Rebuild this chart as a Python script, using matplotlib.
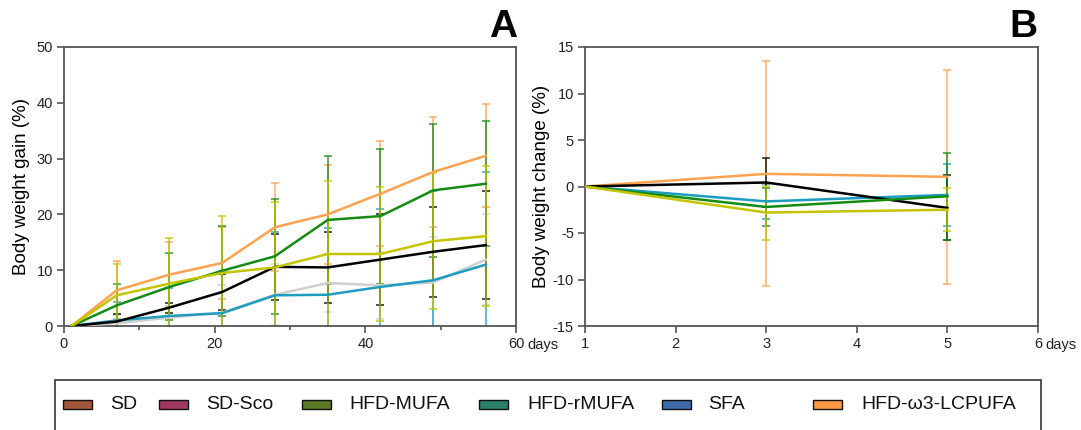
import matplotlib
matplotlib.use("Agg")
import matplotlib.pyplot as plt
from matplotlib.patches import Rectangle
from matplotlib.ticker import MultipleLocator

plt.rcParams['font.family'] = ['Liberation Sans', 'DejaVu Sans']
plt.rcParams['axes.unicode_minus'] = False

# --- Panel A: body weight gain over 56 days ---
days_a = [1, 7, 14, 21, 28, 35, 42, 49, 56]
orange_a = [0, 6.4, 9.2, 11.3, 17.7, 20.0, 23.7, 27.6, 30.5]
orange_a_err = [0, 5.2, 5.8, 6.5, 7.9, 8.8, 9.4, 9.8, 9.2]
green_a = [0, 3.7, 7.0, 9.9, 12.5, 19.0, 19.7, 24.3, 25.5]
green_a_err = [0, 3.9, 6.0, 8.1, 10.3, 11.5, 12.1, 11.9, 11.2]
yellow_a = [0, 5.5, 7.6, 9.5, 10.5, 12.9, 12.9, 15.2, 16.1]
yellow_a_err = [0, 5.7, 8.2, 10.2, 11.8, 13.1, 12.0, 12.2, 12.6]
black_a = [0, 0.8, 3.3, 6.1, 10.6, 10.5, 11.9, 13.3, 14.5]
black_a_err = [0, 1.3, 0.9, 3.2, 5.9, 6.4, 8.2, 8.1, 9.7]
gray_a = [0, 0.5, 1.5, 2.4, 5.6, 7.7, 7.3, 7.8, 11.9]
gray_a_err = [0, 1.5, 2.0, 5.0, 5.5, 5.2, 6.0, 8.2, 8.1]
teal_a = [0, 1.0, 1.8, 2.3, 5.5, 5.6, 7.0, 8.2, 11.0]
teal_a_err = [0, 3.3, 5.0, 7.5, 11.3, 12.0, 14.0, 16.0, 16.6]

# --- Panel B: body weight change over 5 days ---
days_b = [1, 3, 5]
orange_b = [0, 1.36, 1.04]
orange_b_err = [0, 12.1, 11.5]
black_b = [0, 0.43, -2.3]
black_b_err = [0, 2.6, 3.5]
teal_b = [0, -1.6, -0.9]
teal_b_err = [0, 1.9, 3.3]
green_b = [0, -2.2, -1.05]
green_b_err = [0, 2.0, 4.7]
yellow_b = [0, -2.8, -2.5]
yellow_b_err = [0, 2.9, 2.3]

# legend groups
legend_labels = ["SD", "SD-Sco", "HFD-MUFA", "HFD-rMUFA", "SFA", "HFD-ω3-LCPUFA"]
legend_colors = ["#a3573a", "#a0395f", "#5a7a26", "#2a8068", "#3f6aa8", "#ff9b45"]

C_ORANGE = "#ffa24f"
C_GREEN = "#138c13"
C_YELLOW = "#c4c400"
C_BLACK = "#000000"
C_GRAY = "#cfcfcf"
C_TEAL = "#1b9cc0"
SPINE = "#555555"

series_a = [
    (gray_a, gray_a_err, C_GRAY),
    (teal_a, teal_a_err, C_TEAL),
    (black_a, black_a_err, C_BLACK),
    (orange_a, orange_a_err, C_ORANGE),
    (green_a, green_a_err, C_GREEN),
    (yellow_a, yellow_a_err, C_YELLOW),
]
series_b = [
    (orange_b, orange_b_err, C_ORANGE),
    (teal_b, teal_b_err, C_TEAL),
    (black_b, black_b_err, C_BLACK),
    (green_b, green_b_err, C_GREEN),
    (yellow_b, yellow_b_err, C_YELLOW),
]

W, H = 1081, 430
fig = plt.figure(figsize=(W / 100, H / 100), dpi=100)
axA = fig.add_axes([64 / W, (H - 326) / H, 452 / W, 279 / H])
axB = fig.add_axes([585 / W, (H - 326) / H, 453 / W, 279 / H])


def style(ax):
    for s in ax.spines.values():
        s.set_color(SPINE)
        s.set_linewidth(1.3)
    ax.tick_params(which='major', direction='out', length=5, width=1.2,
                   color=SPINE, labelsize=10.5, labelcolor="#222222", pad=3)
    ax.tick_params(which='minor', direction='out', length=3, width=1.2, color=SPINE)


def draw(ax, x, series):
    for y, e, c in series:
        ax.errorbar(x, y, yerr=e, fmt='none', ecolor=c, elinewidth=1.2,
                    capsize=3, capthick=1.2, alpha=0.8, zorder=2)
    for y, e, c in series:
        ax.plot(x, y, color=c, lw=1.8, zorder=3)


draw(axA, days_a, series_a)
axA.set_xlim(0, 60)
axA.set_ylim(0, 50)
axA.set_xticks([0, 20, 40, 60])
axA.xaxis.set_minor_locator(MultipleLocator(10))
axA.yaxis.set_major_locator(MultipleLocator(10))
axA.set_ylabel("Body weight gain (%)", fontsize=13.5, labelpad=5)
style(axA)
axA.annotate("days", xy=(60, 0), xycoords=('data', 'axes fraction'),
             xytext=(8, -8.5), textcoords='offset points', ha='left', va='top',
             fontsize=10.5, color="#222222", annotation_clip=False)

draw(axB, days_b, series_b)
axB.set_xlim(1, 6)
axB.set_ylim(-15, 15)
axB.set_xticks([1, 2, 3, 4, 5, 6])
axB.yaxis.set_major_locator(MultipleLocator(5))
axB.set_ylabel("Body weight change (%)", fontsize=13.5, labelpad=2)
style(axB)
axB.annotate("days", xy=(6, 0), xycoords=('data', 'axes fraction'),
             xytext=(5, -8.5), textcoords='offset points', ha='left', va='top',
             fontsize=10.5, color="#222222", annotation_clip=False)

# panel letters
fig.text(517 / W, 1 - 37 / H, "A", ha='right', va='baseline', fontsize=28, fontweight='bold')
fig.text(1037 / W, 1 - 37 / H, "B", ha='right', va='baseline', fontsize=28, fontweight='bold')

# legend box drawn by hand
fig.add_artist(Rectangle((55 / W, -0.1), 986 / W, 0.1 + (H - 380) / H,
                         transform=fig.transFigure, fill=False,
                         edgecolor="#444444", lw=1.3, clip_on=False))
patch_x = [63, 159, 302, 479, 662, 813]
text_x = [110, 206, 349, 527, 708, 861]
for lab, col, px, tx in zip(legend_labels, legend_colors, patch_x, text_x):
    fig.add_artist(Rectangle((px / W, (H - 409) / H), 29 / W, 9 / H,
                             transform=fig.transFigure, facecolor=col,
                             edgecolor="#111111", lw=1.0))
    fig.text(tx / W, (H - 404.5) / H, lab, ha='left', va='center',
             fontsize=14, color="#111111")

fig.savefig("out.png", dpi=100)
